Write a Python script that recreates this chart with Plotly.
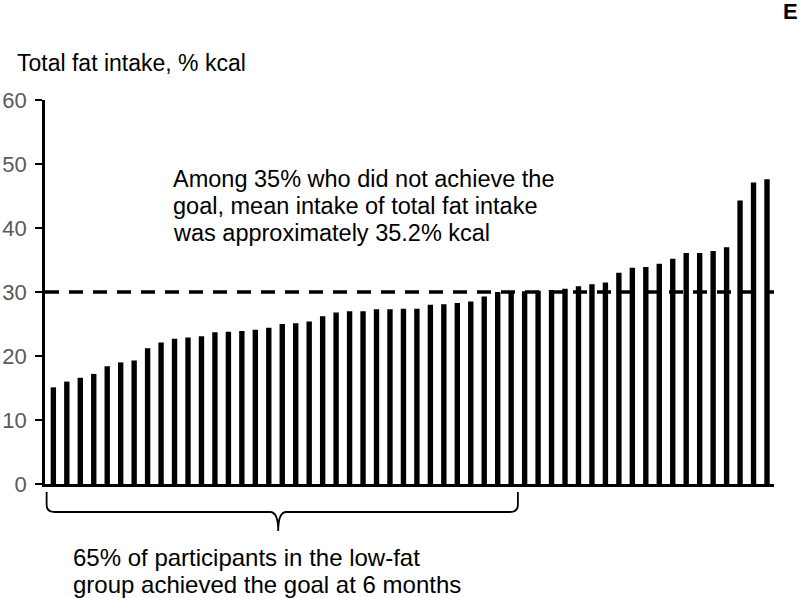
import plotly.graph_objects as go

# participants sorted by total fat intake at 6 months (% kcal)
participants = list(range(1, 55))
fat_intake = [
    15.1, 16.0, 16.6, 17.2, 18.4, 19.0, 19.3, 21.2, 22.1, 22.7, 22.9, 23.1,
    23.7, 23.8, 23.9, 24.1, 24.4, 25.0, 25.1, 25.4, 26.2, 26.8, 27.0, 27.0,
    27.3, 27.3, 27.4, 27.4, 28.0, 28.1, 28.3, 28.5, 29.3, 30.0, 29.9, 30.1,
    30.2, 30.3, 30.5, 30.9, 31.2, 31.5, 33.0, 33.8, 33.9, 34.4, 35.2, 36.1,
    36.1, 36.4, 37.0, 44.3, 47.1, 47.6,
]
goal = 30
y_ticks = [0, 10, 20, 30, 40, 50, 60]
n_achieved = 35  # 65% of participants

FONT = "Liberation Sans, Arial, sans-serif"
W, H = 800, 598
L, R, T, B = 45, 26, 100, 114


def px(x):  # pixel -> paper x
    return (x - L) / (W - L - R)


def py(y):  # pixel -> paper y
    return (H - B - y) / (H - T - B)


fig = go.Figure(go.Bar(
    x=participants, y=fat_intake, width=0.4,
    marker=dict(color="black", line=dict(width=0)),
    hoverinfo="y",
))

# goal line
fig.add_shape(type="line", xref="paper", x0=0, x1=1, yref="y", y0=goal, y1=goal,
              line=dict(color="black", width=3.5, dash="14px,10px"), layer="above")

# curly bracket under the participants who achieved the goal
x0, x1 = 0.5, n_achieved + 0.5
xm = 17.7
d = 0.6
yt, y1b, yh, ytip = py(492), py(505), py(512), py(531)
path = (f"M {x0},{yt} L {x0},{y1b} Q {x0},{yh} {x0 + d},{yh} "
        f"L {xm - d},{yh} Q {xm},{yh} {xm},{ytip} Q {xm},{yh} {xm + d},{yh} "
        f"L {x1 - d},{yh} Q {x1},{yh} {x1},{y1b} L {x1},{yt}")
fig.add_shape(type="path", xref="x", yref="paper", path=path,
              line=dict(color="black", width=1.8))

annotations = [
    dict(text="Total fat intake, % kcal", x=px(15), y=py(63), size=23),
    dict(text="<b>E</b>", x=px(781), y=py(12), size=22),
]
for i, line in enumerate(["Among 35% who did not achieve the",
                          "goal, mean intake of total fat intake",
                          "was approximately 35.2% kcal"]):
    annotations.append(dict(text=line, x=px(171), y=py(179 + 27 * i), size=23.5))
for i, line in enumerate(["65% of participants in the low-fat",
                          "group achieved the goal at 6 months"]):
    annotations.append(dict(text=line, x=px(71), y=py(557 + 27 * i), size=24))

for a in annotations:
    fig.add_annotation(text=a["text"], xref="paper", yref="paper", x=a["x"], y=a["y"],
                       xanchor="left", yanchor="middle", showarrow=False,
                       font=dict(family=FONT, size=a["size"], color="black"))

fig.update_layout(
    width=W, height=H,
    margin=dict(l=L, r=R, t=T, b=B, autoexpand=False),
    plot_bgcolor="white", paper_bgcolor="white",
    showlegend=False,
    font=dict(family=FONT),
    xaxis=dict(range=[0.38, 54.52], showgrid=False, zeroline=False, showticklabels=False,
               showline=True, linecolor="black", linewidth=2.5, ticks="", automargin=False),
    yaxis=dict(range=[0, 60], tickvals=y_ticks, showgrid=False, zeroline=False,
               showline=True, linecolor="black", linewidth=2.5,
               ticks="outside", ticklen=7, tickwidth=2, tickcolor="black",
               ticklabelstandoff=4, automargin=False,
               tickfont=dict(family=FONT, size=22, color="#595959")),
)

# drop the page's default body margin so the figure sits at the window corner
fig.write_html("out.html", config={"displayModeBar": False},
               post_script="document.body.style.margin='0';")
